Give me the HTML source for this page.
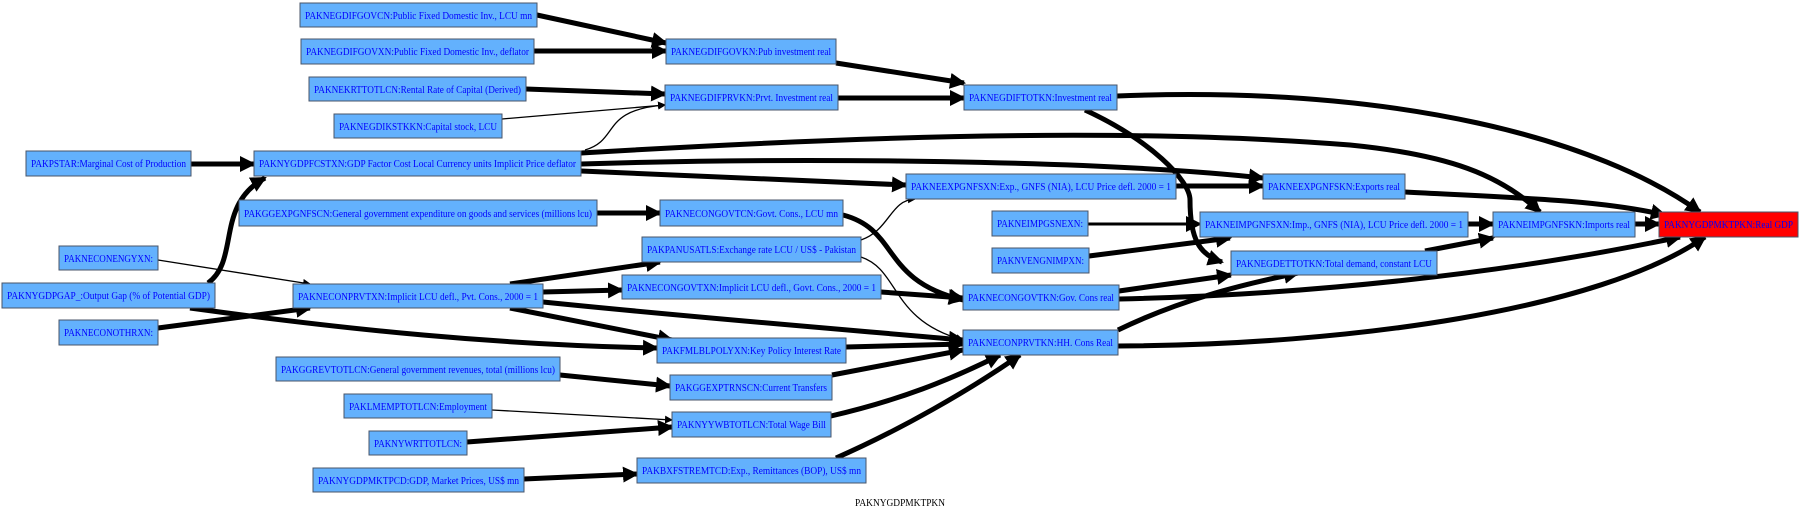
<!DOCTYPE html>
<html><head><meta charset="utf-8"><style>
html,body{margin:0;padding:0;background:#fff;}
svg{display:block;}
text{font-family:"Liberation Serif",serif;font-size:11px;fill:#0000ff;}
.n{fill:#63b1fd;stroke:#4a5568;stroke-width:1;}
.e{fill:none;stroke:#000;stroke-width:5;}
.t{fill:none;stroke:#000;stroke-width:1.3;}
</style></head><body>
<svg width="1800" height="512" viewBox="0 0 1800 512" xmlns="http://www.w3.org/2000/svg">
<defs>
<marker id="a" markerUnits="userSpaceOnUse" markerWidth="16" markerHeight="16" refX="14" refY="8" orient="auto"><path d="M0,0 L16,8 L0,16 z" fill="#000"/></marker>
<marker id="s" markerUnits="userSpaceOnUse" markerWidth="8" markerHeight="8" refX="7" refY="4" orient="auto"><path d="M0,0 L8,4 L0,8 z" fill="#000"/></marker>
</defs>
<g>
<path class="e" marker-end="url(#a)" d="M537,15 L666,43"/>
<path class="e" marker-end="url(#a)" d="M534,51 L666,51"/>
<path class="e" marker-end="url(#a)" d="M526,89 L665,94"/>
<path class="t" marker-end="url(#s)" d="M502,119 L665,105"/>
<path class="t" marker-end="url(#s)" d="M585,150 C620,140 600,110 665,105"/>
<path class="e" marker-end="url(#a)" d="M836,63 L964,83"/>
<path class="e" marker-end="url(#a)" d="M838,98 L964,98"/>
<path class="e" marker-end="url(#a)" d="M191,164 L254,164"/>
<path class="e" marker-end="url(#a)" d="M208,283 C240,260 215,205 265,178"/>
<path class="e" marker-end="url(#a)" d="M581,153 C800,140 1100,125 1350,145 C1450,155 1500,175 1540,212"/>
<path class="e" marker-end="url(#a)" d="M581,164 C800,157 1100,160 1263,178"/>
<path class="e" marker-end="url(#a)" d="M581,171 L906,185"/>
<path class="e" marker-end="url(#a)" d="M1117,96 C1400,85 1600,140 1700,212"/>
<path class="e" marker-end="url(#a)" d="M1085,110 C1150,140 1190,180 1190,200 C1190,240 1200,255 1222,262"/>
<path class="e" marker-end="url(#a)" d="M1176,186 L1263,186"/>
<path class="e" marker-end="url(#a)" d="M1405,192 C1520,198 1600,200 1665,215"/>
<path class="e" style="stroke-width:3" marker-end="url(#a)" d="M1088,224 L1200,224"/>
<path class="e" marker-end="url(#a)" d="M1468,224 L1493,224"/>
<path class="e" marker-end="url(#a)" d="M1635,224 L1659,224"/>
<path class="e" marker-end="url(#a)" d="M1089,256 L1230,238"/>
<path class="e" marker-end="url(#a)" d="M1425,251 L1493,238"/>
<path class="e" marker-end="url(#a)" d="M1119,291 L1231,275"/>
<path class="e" marker-end="url(#a)" d="M1119,299 C1300,295 1500,275 1680,237"/>
<path class="e" marker-end="url(#a)" d="M1118,330 C1180,300 1240,285 1298,273"/>
<path class="e" marker-end="url(#a)" d="M1118,346 C1350,345 1600,310 1705,237"/>
<path class="e" marker-end="url(#a)" d="M597,213 L660,213"/>
<path class="e" marker-end="url(#a)" d="M843,215 C900,230 880,280 963,300"/>
<path class="t" marker-end="url(#s)" d="M861,240 C890,230 890,200 915,199"/>
<path class="t" marker-end="url(#s)" d="M861,257 C900,270 890,320 963,340"/>
<path class="t" marker-end="url(#s)" d="M158,260 L310,284"/>
<path class="e" marker-end="url(#a)" d="M158,328 L310,308"/>
<path class="e" marker-end="url(#a)" d="M190,308 C350,330 500,345 657,348"/>
<path class="e" marker-end="url(#a)" d="M510,284 L660,262"/>
<path class="e" marker-end="url(#a)" d="M543,292 L622,290"/>
<path class="e" marker-end="url(#a)" d="M510,308 L672,340"/>
<path class="e" marker-end="url(#a)" d="M543,302 C700,318 850,330 963,340"/>
<path class="e" marker-end="url(#a)" d="M881,292 L963,298"/>
<path class="e" marker-end="url(#a)" d="M846,347 L963,344"/>
<path class="e" marker-end="url(#a)" d="M560,375 L670,386"/>
<path class="e" marker-end="url(#a)" d="M832,375 L963,350"/>
<path class="t" marker-end="url(#s)" d="M492,410 L672,420"/>
<path class="e" marker-end="url(#a)" d="M467,442 L672,427"/>
<path class="e" marker-end="url(#a)" d="M831,416 C900,400 950,380 1000,355"/>
<path class="e" marker-end="url(#a)" d="M524,479 L637,474"/>
<path class="e" marker-end="url(#a)" d="M836,458 C900,430 970,390 1020,355"/>
</g>
<g>
<rect class="n" x="300" y="3" width="237" height="24"/><text x="418.5" y="19" text-anchor="middle" textLength="227" lengthAdjust="spacingAndGlyphs">PAKNEGDIFGOVCN:Public Fixed Domestic Inv., LCU mn</text>
<rect class="n" x="301" y="39" width="233" height="25"/><text x="417.5" y="55" text-anchor="middle" textLength="223" lengthAdjust="spacingAndGlyphs">PAKNEGDIFGOVXN:Public Fixed Domestic Inv., deflator</text>
<rect class="n" x="666" y="39" width="170" height="25"/><text x="751" y="55" text-anchor="middle" textLength="160" lengthAdjust="spacingAndGlyphs">PAKNEGDIFGOVKN:Pub investment real</text>
<rect class="n" x="309" y="77" width="217" height="24"/><text x="417.5" y="93" text-anchor="middle" textLength="207" lengthAdjust="spacingAndGlyphs">PAKNEKRTTOTLCN:Rental Rate of Capital (Derived)</text>
<rect class="n" x="665" y="85" width="173" height="25"/><text x="751.5" y="101" text-anchor="middle" textLength="163" lengthAdjust="spacingAndGlyphs">PAKNEGDIFPRVKN:Prvt. Investment real</text>
<rect class="n" x="334" y="114" width="168" height="24"/><text x="418" y="130" text-anchor="middle" textLength="158" lengthAdjust="spacingAndGlyphs">PAKNEGDIKSTKKN:Capital stock, LCU</text>
<rect class="n" x="26" y="151" width="165" height="25"/><text x="108.5" y="167" text-anchor="middle" textLength="155" lengthAdjust="spacingAndGlyphs">PAKPSTAR:Marginal Cost of Production</text>
<rect class="n" x="254" y="151" width="327" height="25"/><text x="417.5" y="167" text-anchor="middle" textLength="317" lengthAdjust="spacingAndGlyphs">PAKNYGDPFCSTXN:GDP Factor Cost Local Currency units Implicit Price deflator</text>
<rect class="n" x="239" y="200" width="358" height="26"/><text x="418" y="217" text-anchor="middle" textLength="348" lengthAdjust="spacingAndGlyphs">PAKGGEXPGNFSCN:General government expenditure on goods and services (millions lcu)</text>
<rect class="n" x="660" y="200" width="183" height="26"/><text x="751.5" y="217" text-anchor="middle" textLength="173" lengthAdjust="spacingAndGlyphs">PAKNECONGOVTCN:Govt. Cons., LCU mn</text>
<rect class="n" x="642" y="237" width="219" height="25"/><text x="751.5" y="253" text-anchor="middle" textLength="209" lengthAdjust="spacingAndGlyphs">PAKPANUSATLS:Exchange rate LCU / US$ - Pakistan</text>
<rect class="n" x="59" y="246" width="99" height="24"/><text x="108.5" y="262" text-anchor="middle" textLength="89" lengthAdjust="spacingAndGlyphs">PAKNECONENGYXN:</text>
<rect class="n" x="964" y="85" width="153" height="25"/><text x="1040.5" y="101" text-anchor="middle" textLength="143" lengthAdjust="spacingAndGlyphs">PAKNEGDIFTOTKN:Investment real</text>
<rect class="n" x="906" y="174" width="270" height="25"/><text x="1041" y="190" text-anchor="middle" textLength="260" lengthAdjust="spacingAndGlyphs">PAKNEEXPGNFSXN:Exp., GNFS (NIA), LCU Price defl. 2000 = 1</text>
<rect class="n" x="1263" y="174" width="142" height="25"/><text x="1334" y="190" text-anchor="middle" textLength="132" lengthAdjust="spacingAndGlyphs">PAKNEEXPGNFSKN:Exports real</text>
<rect class="n" x="992" y="211" width="96" height="25"/><text x="1040" y="227" text-anchor="middle" textLength="86" lengthAdjust="spacingAndGlyphs">PAKNEIMPGSNEXN:</text>
<rect class="n" x="1200" y="212" width="268" height="25"/><text x="1334" y="228" text-anchor="middle" textLength="258" lengthAdjust="spacingAndGlyphs">PAKNEIMPGNFSXN:Imp., GNFS (NIA), LCU Price defl. 2000 = 1</text>
<rect class="n" x="1493" y="212" width="142" height="25"/><text x="1564" y="228" text-anchor="middle" textLength="132" lengthAdjust="spacingAndGlyphs">PAKNEIMPGNFSKN:Imports real</text>
<rect x="1659" y="212" width="139" height="25" fill="#ff0000" stroke="#4a5568"/><text x="1728.5" y="228" text-anchor="middle" textLength="129" lengthAdjust="spacingAndGlyphs">PAKNYGDPMKTPKN:Real GDP</text>
<rect class="n" x="992" y="248" width="97" height="25"/><text x="1040.5" y="264" text-anchor="middle" textLength="87" lengthAdjust="spacingAndGlyphs">PAKNVENGNIMPXN:</text>
<rect class="n" x="1231" y="251" width="206" height="24"/><text x="1334" y="267" text-anchor="middle" textLength="196" lengthAdjust="spacingAndGlyphs">PAKNEGDETTOTKN:Total demand, constant LCU</text>
<rect class="n" x="2" y="283" width="213" height="25"/><text x="108.5" y="299" text-anchor="middle" textLength="203" lengthAdjust="spacingAndGlyphs">PAKNYGDPGAP_:Output Gap (% of Potential GDP)</text>
<rect class="n" x="293" y="284" width="250" height="24"/><text x="418" y="300" text-anchor="middle" textLength="240" lengthAdjust="spacingAndGlyphs">PAKNECONPRVTXN:Implicit LCU defl., Pvt. Cons., 2000 = 1</text>
<rect class="n" x="59" y="320" width="99" height="25"/><text x="108.5" y="336" text-anchor="middle" textLength="89" lengthAdjust="spacingAndGlyphs">PAKNECONOTHRXN:</text>
<rect class="n" x="622" y="275" width="259" height="24"/><text x="751.5" y="291" text-anchor="middle" textLength="249" lengthAdjust="spacingAndGlyphs">PAKNECONGOVTXN:Implicit LCU defl., Govt. Cons., 2000 = 1</text>
<rect class="n" x="963" y="285" width="156" height="25"/><text x="1041" y="301" text-anchor="middle" textLength="146" lengthAdjust="spacingAndGlyphs">PAKNECONGOVTKN:Gov. Cons real</text>
<rect class="n" x="963" y="330" width="155" height="25"/><text x="1040.5" y="346" text-anchor="middle" textLength="145" lengthAdjust="spacingAndGlyphs">PAKNECONPRVTKN:HH. Cons Real</text>
<rect class="n" x="657" y="338" width="189" height="25"/><text x="751.5" y="354" text-anchor="middle" textLength="179" lengthAdjust="spacingAndGlyphs">PAKFMLBLPOLYXN:Key Policy Interest Rate</text>
<rect class="n" x="276" y="357" width="284" height="24"/><text x="418" y="373" text-anchor="middle" textLength="274" lengthAdjust="spacingAndGlyphs">PAKGGREVTOTLCN:General government revenues, total (millions lcu)</text>
<rect class="n" x="670" y="375" width="162" height="25"/><text x="751" y="391" text-anchor="middle" textLength="152" lengthAdjust="spacingAndGlyphs">PAKGGEXPTRNSCN:Current Transfers</text>
<rect class="n" x="344" y="394" width="148" height="24"/><text x="418" y="410" text-anchor="middle" textLength="138" lengthAdjust="spacingAndGlyphs">PAKLMEMPTOTLCN:Employment</text>
<rect class="n" x="672" y="412" width="159" height="25"/><text x="751.5" y="428" text-anchor="middle" textLength="149" lengthAdjust="spacingAndGlyphs">PAKNYYWBTOTLCN:Total Wage Bill</text>
<rect class="n" x="369" y="431" width="98" height="24"/><text x="418" y="447" text-anchor="middle" textLength="88" lengthAdjust="spacingAndGlyphs">PAKNYWRTTOTLCN:</text>
<rect class="n" x="313" y="468" width="211" height="24"/><text x="418.5" y="484" text-anchor="middle" textLength="201" lengthAdjust="spacingAndGlyphs">PAKNYGDPMKTPCD:GDP, Market Prices, US$ mn</text>
<rect class="n" x="637" y="458" width="229" height="25"/><text x="751.5" y="474" text-anchor="middle" textLength="219" lengthAdjust="spacingAndGlyphs">PAKBXFSTREMTCD:Exp., Remittances (BOP), US$ mn</text>
<text x="900" y="506" text-anchor="middle" style="fill:#000" textLength="90" lengthAdjust="spacingAndGlyphs">PAKNYGDPMKTPKN</text>
</g>
</svg>
</body></html>
